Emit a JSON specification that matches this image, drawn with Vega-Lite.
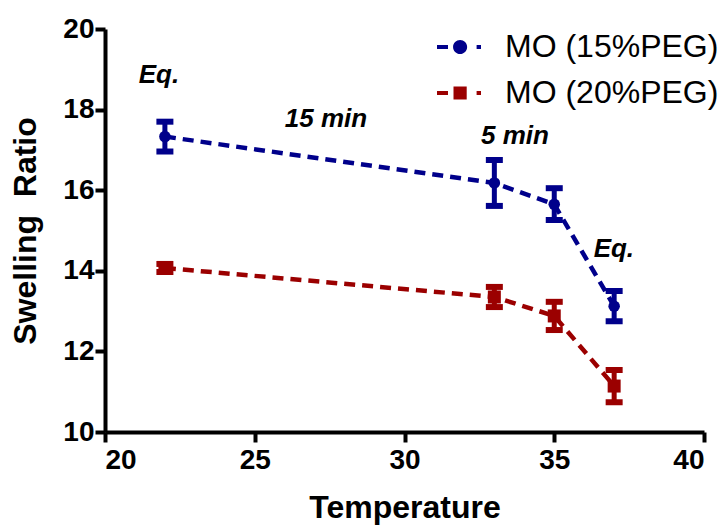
{
  "$schema": "https://vega.github.io/schema/vega-lite/v6.json",
  "autosize": "none",
  "width": 599,
  "height": 403,
  "padding": {"left": 105, "top": 29, "right": 18, "bottom": 95},
  "background": "white",
  "config": {
    "view": {"stroke": null},
    "font": "Liberation Sans",
    "axis": {"grid": false, "domainColor": "black", "tickColor": "black", "labelColor": "black", "titleColor": "black", "labelFont": "Liberation Sans", "titleFont": "Liberation Sans"}
  },
  "datasets": {
    "pts": [
      {"series": "MO (15%PEG)", "temp": 22, "mean": 17.33, "lo": 16.96, "hi": 17.70},
      {"series": "MO (15%PEG)", "temp": 33, "mean": 16.18, "lo": 15.61, "hi": 16.75},
      {"series": "MO (15%PEG)", "temp": 35, "mean": 15.65, "lo": 15.26, "hi": 16.05},
      {"series": "MO (15%PEG)", "temp": 37, "mean": 13.12, "lo": 12.75, "hi": 13.50},
      {"series": "MO (20%PEG)", "temp": 22, "mean": 14.07, "lo": 13.97, "hi": 14.17},
      {"series": "MO (20%PEG)", "temp": 33, "mean": 13.35, "lo": 13.10, "hi": 13.60},
      {"series": "MO (20%PEG)", "temp": 35, "mean": 12.88, "lo": 12.53, "hi": 13.23},
      {"series": "MO (20%PEG)", "temp": 37, "mean": 11.14, "lo": 10.74, "hi": 11.54}
    ],
    "notes": [
      {"label": "Eq.", "x": 21.8, "y": 18.65},
      {"label": "15 min", "x": 27.38, "y": 17.58},
      {"label": "5 min", "x": 33.69, "y": 17.15},
      {"label": "Eq.", "x": 36.99, "y": 14.35}
    ]
  },
  "layer": [
    {
      "data": {"name": "pts"},
      "mark": {"type": "line", "strokeDash": [11, 7], "strokeWidth": 4.5},
      "encoding": {
        "x": {"field": "temp", "type": "quantitative", "title": "Temperature", "scale": {"domain": [20, 40], "nice": false, "zero": false},
          "axis": {"values": [20, 25, 30, 35, 40], "title": "Temperature", "domainWidth": 4, "tickWidth": 4, "tickSize": 10, "labelFontSize": 28, "labelFontWeight": "bold", "labelPadding": 4, "titleFontSize": 32, "titleFontWeight": "bold", "titlePadding": 18}},
        "y": {"field": "mean", "type": "quantitative", "title": "Swelling\u00a0 Ratio", "scale": {"domain": [10, 20], "nice": false, "zero": false},
          "axis": {"values": [10, 12, 14, 16, 18, 20], "title": "Swelling\u00a0 Ratio", "domainWidth": 4, "tickWidth": 4, "tickSize": 10, "labelFontSize": 28, "labelFontWeight": "bold", "labelPadding": 1, "titleFontSize": 32, "titleFontWeight": "bold", "titlePadding": 20}},
        "color": {"field": "series", "type": "nominal", "scale": {"domain": ["MO (15%PEG)", "MO (20%PEG)"], "range": ["#00008B", "#9B0000"]}}
      }
    },
    {
      "data": {"name": "pts"},
      "mark": {"type": "errorbar", "opacity": 1, "ticks": {"size": 17, "thickness": 6, "opacity": 1}, "rule": {"strokeWidth": 5, "opacity": 1}},
      "encoding": {
        "x": {"field": "temp", "type": "quantitative", "title": "Temperature"},
        "y": {"field": "lo", "type": "quantitative", "title": "Swelling\u00a0 Ratio"},
        "y2": {"field": "hi"},
        "color": {"field": "series", "type": "nominal"}
      }
    },
    {
      "data": {"name": "pts"},
      "transform": [{"filter": "datum.series === 'MO (15%PEG)'"}],
      "mark": {"type": "point", "filled": true, "opacity": 1, "shape": "circle", "size": 133},
      "encoding": {
        "x": {"field": "temp", "type": "quantitative", "title": "Temperature"},
        "y": {"field": "mean", "type": "quantitative", "title": "Swelling\u00a0 Ratio"},
        "color": {"field": "series", "type": "nominal"}
      }
    },
    {
      "data": {"name": "pts"},
      "transform": [{"filter": "datum.series === 'MO (20%PEG)'"}],
      "mark": {"type": "point", "filled": true, "opacity": 1, "shape": "square", "size": 169},
      "encoding": {
        "x": {"field": "temp", "type": "quantitative", "title": "Temperature"},
        "y": {"field": "mean", "type": "quantitative", "title": "Swelling\u00a0 Ratio"},
        "color": {"field": "series", "type": "nominal"}
      }
    },
    {
      "data": {"name": "pts"},
      "mark": {"type": "point", "filled": true, "opacity": 0, "strokeWidth": 0},
      "encoding": {
        "x": {"field": "temp", "type": "quantitative", "title": "Temperature"},
        "y": {"field": "mean", "type": "quantitative", "title": "Swelling\u00a0 Ratio"},
        "color": {"field": "series", "type": "nominal",
          "legend": {"title": null, "orient": "none", "legendX": 332, "legendY": -4, "padding": 0, "symbolSize": 1936, "symbolOpacity": 1, "symbolStrokeWidth": 0, "labelFontSize": 32, "labelFont": "Liberation Sans", "labelColor": "black", "labelOffset": 24, "rowPadding": 8, "labelLimit": 0}},
        "shape": {"field": "series", "type": "nominal",
          "scale": {"domain": ["MO (15%PEG)", "MO (20%PEG)"], "range": [
            "M-1,-0.09H-0.5V0.09H-1Z M-0.27,0A0.32,0.32,0,1,1,0.37,0A0.32,0.32,0,1,1,-0.27,0Z M0.8,-0.09H1V0.09H0.8Z",
            "M-1,-0.09H-0.5V0.09H-1Z M-0.25,-0.3H0.35V0.3H-0.25Z M0.8,-0.09H1V0.09H0.8Z"]},
          "legend": {"title": null, "orient": "none", "legendX": 332, "legendY": -4, "padding": 0, "symbolSize": 1936, "symbolOpacity": 1, "symbolStrokeWidth": 0, "labelFontSize": 32, "labelFont": "Liberation Sans", "labelColor": "black", "labelOffset": 24, "rowPadding": 8, "labelLimit": 0}}
      }
    },
    {
      "data": {"name": "notes"},
      "mark": {"type": "text", "fontSize": 26, "fontWeight": "bold", "fontStyle": "italic", "font": "Liberation Sans", "color": "black", "align": "center", "baseline": "alphabetic"},
      "encoding": {
        "x": {"field": "x", "type": "quantitative", "title": "Temperature"},
        "y": {"field": "y", "type": "quantitative", "title": "Swelling\u00a0 Ratio"},
        "text": {"field": "label"}
      }
    }
  ]
}
